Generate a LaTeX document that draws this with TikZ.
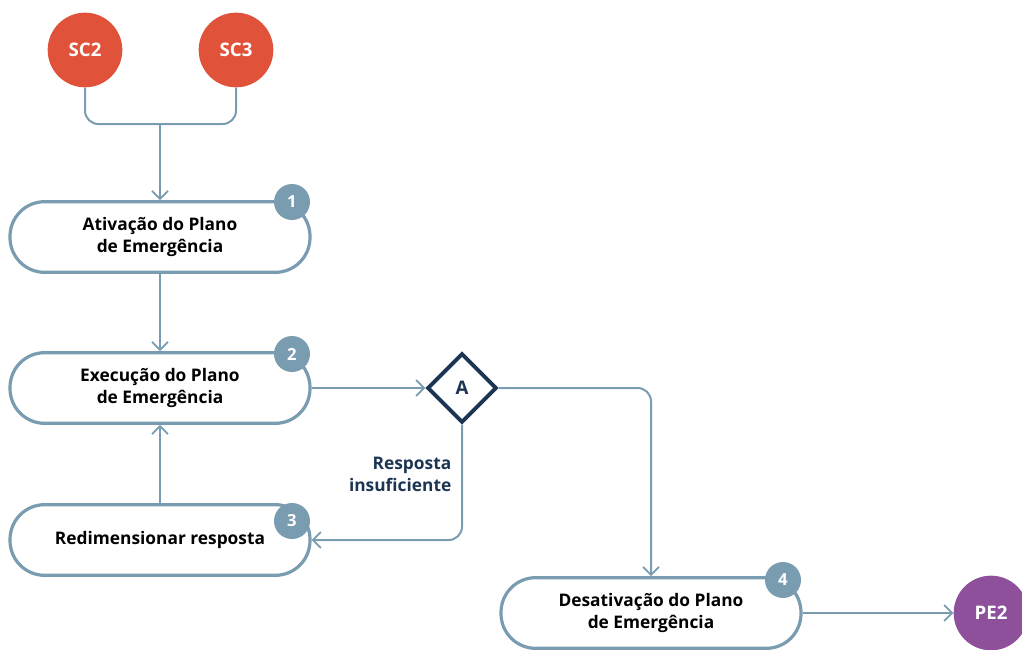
\documentclass[tikz,border=0pt]{standalone}
\usepackage{fontspec}
\setmainfont{Open Sans}
\usetikzlibrary{shapes.geometric,arrows.meta}

\definecolor{scred}{HTML}{E0533A}
\definecolor{pepurple}{HTML}{8E4F9B}
\definecolor{slate}{HTML}{7A9CB1}
\definecolor{navy}{HTML}{1C3553}

\tikzset{
	endpoint/.style={circle, fill=#1, text=white, inner sep=0pt, minimum size=56pt, font=\fontsize{14}{16}\selectfont\bfseries},
	stepbox/.style={draw=slate, line width=2.4pt, fill=white, rounded corners=26pt, minimum width=225pt, minimum height=53pt, align=center, font=\fontsize{13}{15.8}\selectfont\bfseries},
	badge/.style={circle, fill=slate, text=white, inner sep=0pt, minimum size=27pt, font=\fontsize{12.5}{14}\selectfont\bfseries},
	decision/.style={diamond, draw=navy, line width=3pt, fill=white, inner sep=0pt, minimum width=52pt, minimum height=52pt, text=navy, font=\fontsize{14}{16}\selectfont\bfseries},
	link/.style={draw=slate, line width=1.5pt, rounded corners=10pt},
	arr/.style={link, -{Straight Barb[length=6pt, width=12pt, line width=1.3pt]}},
}

\begin{document}
\begin{tikzpicture}[x=0.75pt, y=-0.75pt]
	\useasboundingbox (0, 0) rectangle (1022, 650);
	\node[endpoint=scred] (sc2) at (85, 50) {SC2};
	\node[endpoint=scred] (sc3) at (236, 50) {SC3};
	\coordinate (join) at (160, 124);
	\node[stepbox] (ativ) at (160, 237) {Ativação do Plano\\de Emergência};
	\node[stepbox] (exec) at (160, 388) {Execução do Plano\\de Emergência};
	\node[stepbox] (redim) at (160, 540) {Redimensionar resposta};
	\node[stepbox] (desat) at (651, 613) {Desativação do Plano\\de Emergência};
	\node[decision] (A) at (462, 388) {A};
	\node[endpoint=pepurple] (pe2) at (991, 613) {PE2};
	\node[badge] (n1) at (292, 202) {1};
	\node[badge] (n2) at (292, 354) {2};
	\node[badge] (n3) at (292, 521) {3};
	\node[badge] (n4) at (783, 580) {4};
	\node[text=navy, align=right, anchor=east, font=\fontsize{13}{16.5}\selectfont\bfseries] (insuf) at (456, 474) {Resposta\\insuficiente};
	\draw[link] (sc2.south) |- (join) -| (sc3.south);
	\draw[arr] (join) -- (ativ.north);
	\draw[arr] (ativ.south) -- (exec.north);
	\draw[arr] (redim.north) -- (exec.south);
	\draw[arr] (exec.east) -- (A.west);
	\draw[arr] (A.south) |- (redim.east);
	\draw[arr] (A.east) -| (desat.north);
	\draw[arr] (desat.east) -- (pe2.west);
\end{tikzpicture}
\end{document}
